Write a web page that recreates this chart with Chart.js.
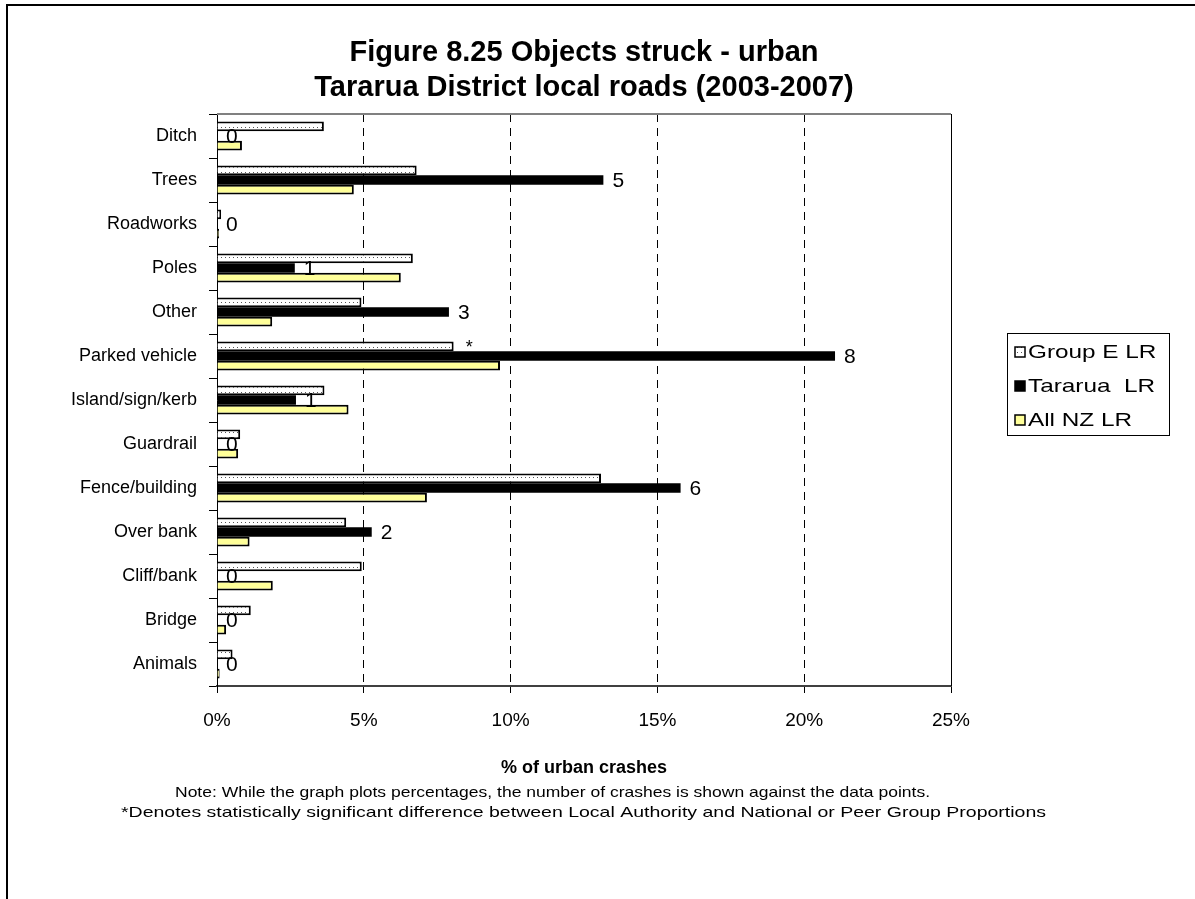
<!DOCTYPE html>
<html>
<head>
<meta charset="utf-8">
<script src="https://cdn.jsdelivr.net/npm/chart.js@4.4.1/dist/chart.umd.min.js"></script>
<style>
html,body{margin:0;padding:0;background:#fff;}
canvas{display:block;}
</style>
</head>
<body>
<canvas id="c" width="1195" height="899"></canvas>
<script>
const categories = ['Ditch','Trees','Roadworks','Poles','Other','Parked vehicle','Island/sign/kerb','Guardrail','Fence/building','Over bank','Cliff/bank','Bridge','Animals'];
const groupE   = [3.64, 6.8, 0.14, 6.67, 4.92, 8.06, 3.66, 0.79, 13.08, 4.40, 4.93, 1.15, 0.53];
const tararua  = [0, 13.16, 0, 2.65, 7.9, 21.05, 2.69, 0, 15.79, 5.27, 0, 0, 0];
const allNZ    = [0.85, 4.66, 0.07, 6.26, 1.88, 9.64, 4.48, 0.72, 7.15, 1.11, 1.9, 0.31, 0.09];
const tararuaCounts = ['0','5','0','1','3','8','1','0','6','2','0','0','0'];
const groupESig = ['','','','','','*','','','','','','',''];
const xTicks = [0,5,10,15,20,25];
const seriesNames = ['Group E LR','Tararua  LR','All NZ LR'];
const titleLines = ['Figure 8.25 Objects struck - urban','Tararua District local roads (2003-2007)'];
const xTitle = '% of urban crashes';
const notes = ['Note: While the graph plots percentages, the number of crashes is shown against the data points.',
  '*Denotes statistically significant difference between Local Authority and National or Peer Group Proportions'];

const FONT = "'Liberation Sans', Arial, sans-serif";

// dotted pattern for Group E
const pc = document.createElement('canvas');
pc.width = 4; pc.height = 5;
const pctx = pc.getContext('2d');
pctx.fillStyle = '#fff'; pctx.fillRect(0,0,4,5);
pctx.fillStyle = '#555'; pctx.fillRect(1,2,1,1);
const ctx0 = document.getElementById('c').getContext('2d');
const dotPattern = ctx0.createPattern(pc, 'repeat');

const PLOT = {left:217, right:951, top:114, bottom:686};

function stretchedText(ctx, text, x, y, sx){
  ctx.save();
  ctx.translate(x, y);
  ctx.scale(sx, 1);
  ctx.fillText(text, 0, 0);
  ctx.restore();
}
// draw text left-aligned at x fitted to a given width
function fittedText(ctx, text, x, y, w){
  const nat = ctx.measureText(text).width;
  ctx.save();
  ctx.textAlign = 'left';
  ctx.translate(x, y);
  ctx.scale(w / nat, 1);
  ctx.fillText(text, 0, 0);
  ctx.restore();
}

const decor = {
  id:'decor',
  afterDraw(chart){
    const ctx = chart.ctx;
    const a = chart.chartArea;
    ctx.save();
    // outer frame (left and top)
    ctx.strokeStyle = '#000'; ctx.lineWidth = 2;
    ctx.beginPath(); ctx.moveTo(7,899); ctx.lineTo(7,5); ctx.lineTo(1195,5); ctx.stroke();
    // plot frame top and right
    ctx.strokeStyle = '#808080'; ctx.lineWidth = 2;
    ctx.beginPath(); ctx.moveTo(a.left, a.top); ctx.lineTo(a.right, a.top); ctx.stroke();
    ctx.strokeStyle = '#000'; ctx.lineWidth = 1;
    ctx.beginPath(); ctx.moveTo(a.right+0.5, a.top); ctx.lineTo(a.right+0.5, a.bottom); ctx.stroke();
    // title
    ctx.fillStyle = '#000';
    ctx.textAlign = 'center'; ctx.textBaseline = 'alphabetic';
    ctx.font = 'bold 29px ' + FONT;
    const cx = (a.left + a.right)/2;
    ctx.fillText(titleLines[0], cx, 61);
    ctx.fillText(titleLines[1], cx, 96);
    // axis title
    ctx.textBaseline = 'middle';
    ctx.font = 'bold 18px ' + FONT;
    ctx.fillText(xTitle, cx, 768);
    ctx.font = '15px ' + FONT;
    fittedText(ctx, notes[0], 175, 793, 755);
    fittedText(ctx, notes[1], 121, 813, 925);
    // legend
    const lx = 1007, ly = 333, lw = 162, lh = 102;
    ctx.strokeStyle = '#000'; ctx.lineWidth = 1;
    ctx.strokeRect(lx+0.5, ly+0.5, lw, lh);
    ctx.textAlign = 'left';
    ctx.font = '19px ' + FONT;
    const rows = [352, 386, 420];
    chart.data.datasets.forEach((ds, i) => {
      const y = rows[i];
      ctx.fillStyle = ds.backgroundColor;
      ctx.fillRect(1015, y-5, 10, 10);
      ctx.strokeStyle = '#000'; ctx.lineWidth = 1.5;
      ctx.strokeRect(1015, y-5, 10, 10);
      ctx.fillStyle = '#000';
      stretchedText(ctx, ds.label, 1028, y+1, 1.28);
    });
    ctx.restore();
  },
  afterDatasetsDraw(chart){
    const ctx = chart.ctx;
    ctx.save();
    ctx.fillStyle = '#000';
    ctx.font = '21px ' + FONT;
    ctx.textAlign = 'left'; ctx.textBaseline = 'middle';
    const m1 = chart.getDatasetMeta(1);
    m1.data.forEach((bar, i) => {
      ctx.fillText(tararuaCounts[i], bar.x + 9, bar.y + 1);
    });
    ctx.font = '18px ' + FONT;
    const m0 = chart.getDatasetMeta(0);
    m0.data.forEach((bar, i) => {
      if (groupESig[i]) ctx.fillText(groupESig[i], bar.x + 12, bar.y + 2);
    });
    ctx.restore();
  }
};

new Chart(document.getElementById('c'), {
  type:'bar',
  data:{
    labels: categories,
    datasets:[
      {label: seriesNames[0], data: groupE, backgroundColor: dotPattern, borderColor:'#000', borderWidth:2},
      {label: seriesNames[1], data: tararua, backgroundColor: '#000', borderColor:'#000', borderWidth:0},
      {label: seriesNames[2], data: allNZ, backgroundColor: '#FFFF99', borderColor:'#000', borderWidth:2}
    ]
  },
  options:{
    indexAxis:'y',
    responsive:false,
    animation:false,
    layout:{padding:{left:0, top:PLOT.top, right:1195-PLOT.right, bottom:0}},
    datasets:{bar:{categoryPercentage:0.66, barPercentage:1.0}},
    plugins:{legend:{display:false}, title:{display:false}, tooltip:{enabled:false}},
    scales:{
      x:{
        min:0, max:25,
        afterBuildTicks(scale){ scale.ticks = xTicks.map(v => ({value:v})); },
        afterFit(scale){ scale.height = 899 - PLOT.bottom; },
        ticks:{callback:v => v + '%', color:'#000', font:{family:FONT, size:19}, padding:16, maxRotation:0},
        grid:{
          color: c => (c.tick && (c.tick.value === 0 || c.tick.value === 25)) ? 'rgba(0,0,0,0)' : '#000',
          lineWidth:1, tickLength:7, tickColor:'#000', tickBorderDash:[], drawTicks:true
        },
        border:{display:true, color:'#404040', width:2, dash:[8,6]}
      },
      y:{
        afterFit(scale){ scale.width = PLOT.left; },
        ticks:{color:'#000', font:{family:FONT, size:18}, padding:12},
        grid:{drawOnChartArea:false, tickLength:8, tickColor:'#000', offset:true},
        border:{display:true, color:'#000', width:1}
      }
    }
  },
  plugins:[decor]
});
</script>
</body>
</html>
